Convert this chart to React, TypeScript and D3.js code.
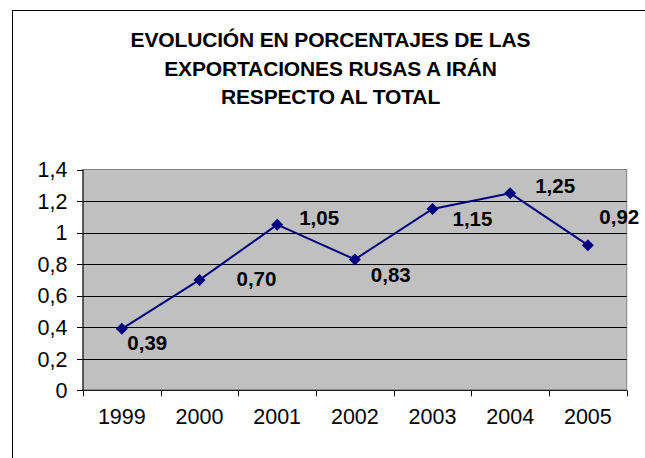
import React from "react";
import * as d3 from "d3";

const years = ["1999", "2000", "2001", "2002", "2003", "2004", "2005"];
const shares = [0.39, 0.70, 1.05, 0.83, 1.15, 1.25, 0.92];
const yTicks = [0, 0.2, 0.4, 0.6, 0.8, 1, 1.2, 1.4];
const titleLines = [
    "EVOLUCIÓN EN PORCENTAJES DE LAS",
    "EXPORTACIONES RUSAS A IRÁN",
    "RESPECTO AL TOTAL"
];

// where each value label sits relative to its marker (dx, dy to text baseline start)
const labelOffsets: Array<[number, number]> = [
    [5.5, 21.5], [37, 6], [22, 0.5], [16, 23], [20, 17.5], [25, 0], [11.5, -21]
];

const W = 645;
const H = 458;
const plot = {left: 83, right: 626.7, top: 169.5, bottom: 390.3};
const font = "'Liberation Sans', Arial, sans-serif";

const fmt = (v: number) => v.toFixed(2).replace(".", ",");
const fmtTick = (v: number) => (v === 0 ? "0" : String(+v.toFixed(1)).replace(".", ","));

function App(): JSX.Element {
    const x = d3.scaleBand<string>().domain(years).range([plot.left, plot.right]);
    const y = d3.scaleLinear().domain([0, 1.4]).range([plot.bottom, plot.top]);
    const cx = (yr: string) => (x(yr) || 0) + x.bandwidth() / 2;

    const line = d3.line<number>()
        .x((_, i) => cx(years[i]))
        .y(d => y(d));

    const boundaries = years.map(yr => x(yr) || 0).concat([plot.right]);

    return (
        <svg width={W} height={H} style={{position: "absolute", left: 0, top: 0, background: "#fff"}}
             fontFamily={font}>
            {/* chart frame, runs off the right and bottom edges */}
            <rect x={12.5} y={10.5} width={W + 10} height={H + 10} fill="none" stroke="#000" strokeWidth={1}/>

            {titleLines.map((t, i) => (
                <text key={t} x={330.5} y={47 + i * 28.5} textAnchor="middle" fontWeight="bold"
                      fontSize={21} letterSpacing={-0.15} fill="#000">{t}</text>
            ))}

            {/* plot area */}
            <rect x={plot.left} y={plot.top} width={plot.right - plot.left} height={plot.bottom - plot.top}
                  fill="#c0c0c0" stroke="#808080" strokeWidth={1}/>

            {yTicks.filter(t => t > 0 && t < 1.4).map(t => (
                <line key={t} x1={plot.left} x2={plot.right} y1={Math.round(y(t)) + 0.5} y2={Math.round(y(t)) + 0.5}
                      stroke="#000" strokeWidth={1}/>
            ))}

            {/* y axis */}
            <line x1={plot.left} x2={plot.left} y1={plot.top} y2={plot.bottom} stroke="#000"/>
            {yTicks.map(t => (
                <g key={t}>
                    <line x1={plot.left - 6} x2={plot.left} y1={Math.round(y(t)) + 0.5} y2={Math.round(y(t)) + 0.5}
                          stroke="#000"/>
                    <text x={67.5} y={y(t) + 7.8} textAnchor="end" fontSize={21.5} fill="#000">{fmtTick(t)}</text>
                </g>
            ))}

            {/* x axis */}
            <line x1={plot.left} x2={plot.right} y1={plot.bottom} y2={plot.bottom} stroke="#000"/>
            {boundaries.map((b, i) => (
                <line key={i} x1={Math.round(b) + 0.5} x2={Math.round(b) + 0.5} y1={plot.bottom} y2={plot.bottom + 6}
                      stroke="#000"/>
            ))}
            {years.map(yr => (
                <text key={yr} x={cx(yr)} y={423.5} textAnchor="middle" fontSize={21.5} fill="#000">{yr}</text>
            ))}

            {/* series */}
            <path d={line(shares) || ""} fill="none" stroke="#000080" strokeWidth={2}/>
            {shares.map((v, i) => (
                <path key={i} d="M0,-6L6,0L0,6L-6,0Z" transform={`translate(${cx(years[i])},${y(v)})`}
                      fill="#000080"/>
            ))}
            {shares.map((v, i) => (
                <text key={i} x={cx(years[i]) + labelOffsets[i][0]} y={y(v) + labelOffsets[i][1]}
                      fontSize={20.5} fontWeight="bold" fill="#000">{fmt(v)}</text>
            ))}
        </svg>
    );
}

export default App;
